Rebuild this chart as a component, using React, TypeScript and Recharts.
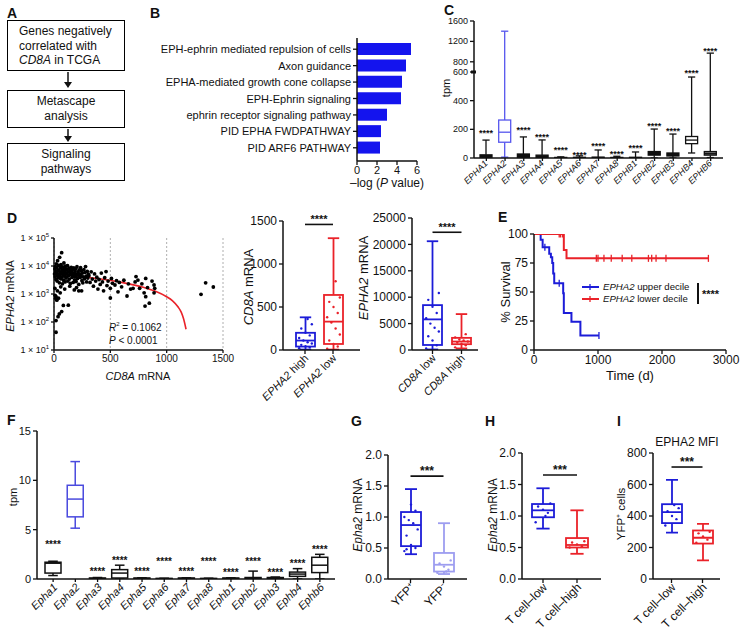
import React from 'react';
import {
  BarChart,
  ComposedChart,
  Bar,
  XAxis,
  YAxis,
  Scatter,
  Line,
  CartesianGrid,
  ReferenceLine,
} from 'recharts';

const FONT = '"Liberation Sans", Arial, Helvetica, sans-serif';
const INK = '#111';
const BLUE = '#1c1cd8';
const RED = '#ea2229';
const LIGHT_BLUE = '#9d9df0';

// ---------------- B: pathway enrichment ----------------
const pathwayTerms = [
  'EPH-ephrin mediated repulsion of cells',
  'Axon guidance',
  'EPHA-mediated growth cone collapse',
  'EPH-Ephrin signaling',
  'ephrin receptor signaling pathway',
  'PID EPHA FWDPATHWAY',
  'PID ARF6 PATHWAY',
];
const pathwayScores = [5.4, 4.9, 4.5, 4.4, 3.0, 2.4, 2.3];
const pathwayTicks = [0, 2, 4, 6];

// ---------------- C: human EPH tpm ----------------
const humanGenes = ['EPHA1', 'EPHA2', 'EPHA3', 'EPHA4', 'EPHA5', 'EPHA6', 'EPHA7', 'EPHA8', 'EPHB1', 'EPHB2', 'EPHB3', 'EPHB4', 'EPHB6'];
const cMin = [0, 6, 0, 0, 0, 0, 0, 0, 0, 0, 0, 35, 3];
const cQ1 = [5, 110, 5, 4, 1, 1, 1, 1, 1, 20, 14, 100, 20];
const cMed = [12, 180, 14, 9, 2, 2, 3, 2, 2, 30, 24, 125, 30];
const cQ3 = [22, 265, 28, 20, 4, 5, 6, 4, 5, 45, 35, 150, 45];
const cMax = [125, 1400, 147, 126, 8, 15, 56, 12, 42, 202, 167, 565, 970];
const cStars: (number | null)[] = [185, null, 210, 160, 70, 35, 98, 42, 84, 237, 202, 610, 1050];
const cTicks = [0, 200, 400, 600, 800, 1200, 1600];
// broken axis: 0-600 on the lower segment, 600-1600 compressed above it
const cT = (v: number) => (v <= 600 ? (v * 86) / 600 : 86 + ((v - 600) * 51) / 1000);

// ---------------- D: scatter CD8A vs EPHA2 ----------------
const dScatter: Array<[number, number]> = [
  [5, 5200], [8, 7800], [10, 4100], [12, 9500], [15, 6300], [18, 3300], [20, 12000], [22, 5600], [25, 8600], [28, 2900],
  [30, 4700], [32, 15500], [35, 6900], [38, 3800], [40, 10500], [42, 5100], [45, 7300], [48, 2500], [50, 20400], [52, 4300],
  [55, 6000], [58, 8900], [60, 3500], [62, 11200], [65, 5400], [68, 29800], [70, 4000], [72, 7100], [75, 2300], [78, 9200],
  [80, 4800], [82, 6400], [85, 3100], [88, 12800], [90, 5700], [92, 8100], [95, 4400], [98, 2700], [100, 6700], [103, 9800],
  [106, 3700], [110, 5300], [113, 7500], [116, 4100], [120, 10200], [123, 2900], [126, 6200], [130, 4600], [133, 8300], [136, 3400],
  [140, 5800], [143, 7000], [146, 2400], [150, 4900], [153, 9000], [156, 6300], [160, 3900], [163, 5100], [166, 7600], [170, 2600],
  [173, 4400], [176, 8500], [180, 5500], [183, 3200], [186, 6600], [190, 4200], [193, 7900], [196, 2800], [200, 5000], [204, 9400],
  [208, 3600], [212, 6100], [216, 4700], [220, 2200], [224, 7200], [228, 5200], [232, 3900], [236, 8700], [240, 4500], [244, 6800],
  [248, 3000], [252, 5600], [256, 2500], [260, 4100], [265, 7400], [270, 3500], [275, 5900], [280, 9500], [285, 4300], [290, 2700],
  [295, 6400], [300, 3700], [305, 5000],
  [10, 900], [15, 700], [18, 800], [25, 600], [40, 710], [30, 1300], [55, 1100], [83, 390], [127, 400], [68, 235],
  [47, 195], [36, 155], [18, 112], [18, 43], [60, 1800], [8, 1600], [95, 1500], [140, 1900], [180, 1400], [220, 1300],
  [245, 1300], [200, 1700],
  [310, 4500], [320, 2600], [330, 6200], [340, 3400], [350, 1900], [360, 5200], [370, 2900], [380, 4000], [390, 1500], [400, 3300],
  [410, 2200], [420, 5600], [430, 2700], [440, 1300], [450, 3800], [462, 6300], [470, 2000], [480, 2900], [500, 1600], [500, 720],
  [510, 3600], [520, 2400], [541, 2100], [555, 3000], [568, 1200], [580, 2600], [600, 1800], [620, 3100], [648, 850], [660, 2300],
  [680, 1500], [702, 1600], [720, 2700], [728, 4200], [745, 3150], [760, 1600], [780, 2300], [800, 1100], [808, 370], [814, 3600],
  [814, 800], [830, 1700], [846, 470], [870, 2900], [888, 2100], [888, 1100], [894, 1600],
  [1305, 970], [1346, 2500], [1414, 1780],
];
const fitCD8A = [0, 200, 400, 600, 800, 900, 1000, 1050, 1100, 1130, 1150, 1172];
const fitEPHA2 = [5300, 4400, 3500, 2600, 1700, 1250, 800, 580, 350, 220, 130, 55];
const logTicks = [10, 100, 1000, 10000, 100000];

// D middle: CD8A mRNA by EPHA2 group
const dMidGroups = ['EPHA2 high', 'EPHA2 low'];
const dMidMin = [5, 5];
const dMidQ1 = [40, 70];
const dMidMed = [110, 330];
const dMidQ3 = [200, 640];
const dMidMax = [380, 1300];
const dMidDots = [
  [20, 30, 45, 60, 75, 90, 110, 140, 170, 200, 250, 300, 360],
  [15, 40, 70, 110, 180, 250, 320, 380, 430, 500, 560, 610, 800],
];
const dMidSig = 1460;

// D right: EPHA2 mRNA by CD8A group
const dRightGroups = ['CD8A low', 'CD8A high'];
const dRightMin = [100, 300];
const dRightQ1 = [950, 1100];
const dRightMed = [5800, 1600];
const dRightQ3 = [8500, 2300];
const dRightMax = [20600, 6800];
const dRightDots = [
  [300, 900, 1800, 2600, 3500, 4200, 5000, 6000, 7000, 8200, 9500, 10800],
  [500, 900, 1200, 1400, 1600, 1800, 2000, 2400, 3000],
];
const dRightSig = 22300;

// ---------------- E: survival ----------------
const upperDays = [0, 104, 135, 238, 264, 285, 300, 316, 456, 466, 585, 725, 1015];
const upperPct = [100, 95, 88.5, 83, 80, 75, 66, 57.5, 49, 32, 24.4, 12.4, 12.4];
const lowerDays = [0, 466, 508, 2725];
const lowerPct = [100, 86.2, 79, 79];
const upperCensorDays = [170, 394, 1015];
const upperCensorPct = [88.5, 57.5, 12.4];
const lowerCensorDays = [394, 415, 446, 974, 1000, 1093, 1207, 1378, 1528, 1788, 1839, 1907, 2062, 2725];
const lowerCensorPct = [100, 100, 100, 79, 79, 79, 79, 79, 79, 79, 79, 79, 79, 79];

// ---------------- F: mouse Eph tpm ----------------
const mouseGenes = ['Epha1', 'Epha2', 'Epha3', 'Epha4', 'Epha5', 'Epha6', 'Epha7', 'Epha8', 'Ephb1', 'Ephb2', 'Ephb3', 'Ephb4', 'Ephb6'];
const fMin = [0.35, 5.15, 0, 0, 0, 0, 0, 0, 0, 0, 0, 0, 0];
const fQ1 = [0.6, 6.3, 0.02, 0.1, 0.02, 0.01, 0.02, 0.01, 0.02, 0.02, 0.03, 0.27, 0.65];
const fMed = [1.6, 8.1, 0.05, 0.6, 0.05, 0.03, 0.05, 0.03, 0.05, 0.06, 0.08, 0.5, 1.4];
const fQ3 = [1.7, 9.5, 0.1, 0.95, 0.1, 0.06, 0.1, 0.06, 0.1, 0.15, 0.15, 0.7, 2.2];
const fMax = [1.8, 11.9, 0.15, 1.4, 0.12, 0.08, 0.12, 0.08, 0.12, 0.8, 0.2, 1.05, 2.5];
const fStars: (number | null)[] = [3.6, null, 0.95, 2.05, 0.95, 1.95, 0.95, 1.95, 0.8, 1.95, 0.8, 1.75, 3.1];

// ---------------- G/H/I ----------------
const gGroups = ['YFP⁺', 'YFP⁻'];
const gMin = [0.4, 0.08];
const gQ1 = [0.53, 0.12];
const gMed = [0.87, 0.23];
const gQ3 = [1.08, 0.42];
const gMax = [1.45, 0.9];
const gDots = [
  [0.45, 0.5, 0.55, 0.7, 0.8, 0.9, 0.95, 1.0, 1.1, 1.2, 0.48],
  [0.1, 0.15, 0.2, 0.25, 0.3, 0.12],
];
const gSig = 1.66;

const hGroups = ['T cell–low', 'T cell–high'];
const hMin = [0.8, 0.4];
const hQ1 = [0.98, 0.5];
const hMed = [1.09, 0.54];
const hQ3 = [1.19, 0.65];
const hMax = [1.44, 1.09];
const hDots = [
  [0.9, 1.05, 1.1, 1.15, 1.2, 1.0],
  [0.5, 0.52, 0.55, 0.58, 0.6],
];
const hSig = 1.65;

const iGroups = ['T cell–low', 'T cell–high'];
const iMin = [295, 118];
const iQ1 = [355, 225];
const iMed = [425, 262];
const iQ3 = [475, 308];
const iMax = [630, 350];
const iDots = [
  [340, 380, 400, 430, 450, 470],
  [230, 250, 270, 290, 300],
];
const iSig = 711;

// ---------------- helpers ----------------
type BoxStyle = { stroke: string; fill: string; sw: number };

function makeBoxRows(
  groups: string[], mins: number[], q1: number[], med: number[], q3: number[], maxs: number[],
  extra: { dots?: number[][]; stars?: (number | null)[]; tf?: (v: number) => number } = {}
) {
  const tf = extra.tf ?? ((v: number) => v);
  return groups.map((g, i) => ({
    g,
    range: [tf(mins[i]), tf(maxs[i])],
    q1: tf(q1[i]),
    med: tf(med[i]),
    q3: tf(q3[i]),
    dots: extra.dots ? extra.dots[i].map(tf) : [],
    star: extra.stars && extra.stars[i] != null ? tf(extra.stars[i] as number) : null,
  }));
}

function boxShape(styles: Record<string, BoxStyle>, opts: { cap?: number; starSize?: number; dotR?: number } = {}) {
  const cap = opts.cap ?? 0.6;
  return (p: any) => {
    const { x, y, width, height, payload } = p;
    if (!payload || !Number.isFinite(x) || !Number.isFinite(y)) return <g />;
    const st = styles[payload.g] ?? { stroke: INK, fill: '#fff', sw: 1.4 };
    const [lo, hi] = payload.range as [number, number];
    const span = hi - lo;
    const py = (v: number) => (span > 0 ? y + (height * (hi - v)) / span : y);
    const cx = x + width / 2;
    const hw = (width * cap) / 2;
    const yHi = py(hi);
    const yLo = py(lo);
    const yQ3 = py(payload.q3);
    const yQ1 = py(payload.q1);
    const yMed = py(payload.med);
    const dots: number[] = payload.dots ?? [];
    return (
      <g>
        <line x1={cx} x2={cx} y1={yHi} y2={yQ3} stroke={st.stroke} strokeWidth={st.sw} />
        <line x1={cx} x2={cx} y1={yQ1} y2={yLo} stroke={st.stroke} strokeWidth={st.sw} />
        <line x1={cx - hw} x2={cx + hw} y1={yHi} y2={yHi} stroke={st.stroke} strokeWidth={st.sw} />
        <line x1={cx - hw} x2={cx + hw} y1={yLo} y2={yLo} stroke={st.stroke} strokeWidth={st.sw} />
        <rect x={x} y={yQ3} width={width} height={Math.max(yQ1 - yQ3, 1)} fill={st.fill} stroke={st.stroke} strokeWidth={st.sw} />
        <line x1={x} x2={x + width} y1={yMed} y2={yMed} stroke={st.stroke} strokeWidth={st.sw} />
        {dots.map((v, k) => (
          <circle key={k} cx={cx + ((((k * 5) % 7) - 3) * width) / 9} cy={py(v)} r={opts.dotR ?? 1.2} fill={st.stroke} />
        ))}
        {payload.star != null && (
          <text x={cx} y={py(payload.star) + 5} textAnchor="middle" fontSize={opts.starSize ?? 9} fontWeight="bold" fill={INK} fontFamily={FONT}>
            ****
          </text>
        )}
      </g>
    );
  };
}

const RotTick = (props: any) => {
  const { x, y, payload, fs, dx, dy, render } = props;
  return (
    <g transform={`translate(${x + dx},${y + dy}) rotate(-45)`}>
      <text x={0} y={0} textAnchor="end" fontSize={fs} fontFamily={FONT} fill={INK}>
        {render ? render(payload.value) : payload.value}
      </text>
    </g>
  );
};

const PlainYTick = (p: any) => (
  <text x={p.x} y={p.y} dy={4} textAnchor="end" fontSize={p.fs ?? 11} fill={INK} fontFamily={FONT}>
    {p.payload.value}
  </text>
);

const italicGene = (v: string) => <tspan fontStyle="italic">{v}</tspan>;
const italicFirst = (v: string) => {
  const [a, ...rest] = v.split(' ');
  return (
    <>
      <tspan fontStyle="italic">{a}</tspan>
      {' ' + rest.join(' ')}
    </>
  );
};

type Frame = {
  style: { position: 'absolute'; left: number; top: number };
  width: number;
  height: number;
  margin: { top: number; right: number; bottom: number; left: number };
  yW: number;
  xH: number;
};

function frame(r: { x0: number; x1: number; y0: number; y1: number }, yW: number, xH: number, mt = 8, mr = 8): Frame {
  return {
    style: { position: 'absolute', left: r.x0 - yW, top: r.y0 - mt },
    width: r.x1 - r.x0 + yW + mr,
    height: r.y1 - r.y0 + mt + xH,
    margin: { top: mt, right: mr, bottom: 0, left: 0 },
    yW,
    xH,
  };
}

const axisLine = { stroke: INK, strokeWidth: 1.5 };
const tickLine = { stroke: INK, strokeWidth: 1.3 };
const tickStyle = (fs: number) => ({ fontSize: fs, fill: INK, fontFamily: FONT });

const Letter = ({ x, base, ch }: { x: number; base: number; ch: string }) => (
  <div style={{ position: 'absolute', left: x, top: base - 12, fontSize: 14, fontWeight: 900, lineHeight: '14px', fontFamily: FONT }}>{ch}</div>
);

const VText = ({ cx, cy, fs = 12, children }: any) => (
  <div
    style={{
      position: 'absolute', left: cx, top: cy, transform: 'translate(-50%,-50%) rotate(-90deg)',
      fontSize: fs, whiteSpace: 'nowrap', lineHeight: 1, fontFamily: FONT, color: INK,
    }}
  >
    {children}
  </div>
);

const HText = ({ cx, cy, fs = 12, children, anchor = 'center' }: any) => (
  <div
    style={{
      position: 'absolute', left: cx, top: cy,
      transform: anchor === 'center' ? 'translate(-50%,-50%)' : 'translate(0,-50%)',
      fontSize: fs, whiteSpace: 'nowrap', lineHeight: 1, fontFamily: FONT, color: INK,
    }}
  >
    {children}
  </div>
);

const LogTick = (p: any) => {
  const exp = Math.round(Math.log10(p.payload.value));
  return (
    <text x={p.x} y={p.y + 3} textAnchor="end" fontSize={9} fill={INK} fontFamily={FONT}>
      1 × 10<tspan dy={-4} fontSize={6}>{exp}</tspan>
    </text>
  );
};

const CTick = (p: any) => {
  const label = cTicks.find((v) => Math.abs(cT(v) - p.payload.value) < 0.01);
  return (
    <g>
      <text x={p.x} y={p.y + 3} textAnchor="end" fontSize={9} fill={INK} fontFamily={FONT}>{label}</text>
      {label === 600 && <rect x={p.x + 3} y={p.y - 1.5} width={5} height={3} fill={INK} />}
    </g>
  );
};

const censorShape = (color: string) => (p: any) =>
  Number.isFinite(p.cx) ? <line x1={p.cx} x2={p.cx} y1={p.cy - 3.5} y2={p.cy + 3.5} stroke={color} strokeWidth={1.3} /> : <g />;

function boxChart(
  f: Frame, rows: any[], styles: Record<string, BoxStyle>, domain: [number, number], ticks: number[],
  fmt: (v: number) => string, barSize: number, pad: { left: number; right: number }, tickFs: number,
  rot: { fs: number; dx: number; dy: number; render?: (v: string) => any },
  sig: number | null, sigText: string, sigFs = 12
) {
  return (
    <div style={f.style}>
      <BarChart width={f.width} height={f.height} margin={f.margin} data={rows}>
        <XAxis
          dataKey="g" type="category" allowDuplicatedCategory={false} padding={pad} height={f.xH}
          axisLine={axisLine} tickLine={tickLine} tickSize={4} tickMargin={2} interval={0}
          tick={(p: any) => <RotTick {...p} {...rot} />}
        />
        <YAxis
          type="number" domain={domain} ticks={ticks} allowDataOverflow width={f.yW} interval={0}
          axisLine={axisLine} tickLine={tickLine} tickSize={4} tickMargin={2} tick={tickStyle(tickFs)} tickFormatter={fmt}
        />
        <Bar dataKey="range" barSize={barSize} isAnimationActive={false} shape={boxShape(styles)} />
        {sig != null && (
          <ReferenceLine
            segment={[{ x: rows[0].g, y: sig }, { x: rows[1].g, y: sig }]}
            stroke={INK} strokeWidth={1.6} ifOverflow="visible"
            label={{ value: sigText, position: 'top', fontSize: sigFs, fill: INK, fontWeight: 'bold', offset: 1 }}
          />
        )}
      </BarChart>
    </div>
  );
}

// ---------------- App ----------------
export default function App() {
  const bRows = pathwayTerms.map((term, i) => ({ term, v: pathwayScores[i] }));
  const cRows = makeBoxRows(humanGenes, cMin, cQ1, cMed, cQ3, cMax, { stars: cStars, tf: cT });
  const fRows = makeBoxRows(mouseGenes, fMin, fQ1, fMed, fQ3, fMax, { stars: fStars });
  const dMidRows = makeBoxRows(dMidGroups, dMidMin, dMidQ1, dMidMed, dMidQ3, dMidMax, { dots: dMidDots });
  const dRightRows = makeBoxRows(dRightGroups, dRightMin, dRightQ1, dRightMed, dRightQ3, dRightMax, { dots: dRightDots });
  const gRows = makeBoxRows(gGroups, gMin, gQ1, gMed, gQ3, gMax, { dots: gDots });
  const hRows = makeBoxRows(hGroups, hMin, hQ1, hMed, hQ3, hMax, { dots: hDots });
  const iRows = makeBoxRows(iGroups, iMin, iQ1, iMed, iQ3, iMax, { dots: iDots });

  const scatterRows = dScatter.map(([x, y]) => ({ x, y }));
  const fitRows = fitCD8A.map((x, i) => ({ x, y: fitEPHA2[i] }));
  const upperRows = upperDays.map((t, i) => ({ t, s: upperPct[i] }));
  const lowerRows = lowerDays.map((t, i) => ({ t, s: lowerPct[i] }));
  const upperCens = upperCensorDays.map((t, i) => ({ t, s: upperCensorPct[i] }));
  const lowerCens = lowerCensorDays.map((t, i) => ({ t, s: lowerCensorPct[i] }));

  const cStyles: Record<string, BoxStyle> = {};
  humanGenes.forEach((g) => (cStyles[g] = { stroke: INK, fill: INK, sw: 1.3 }));
  cStyles.EPHA2 = { stroke: '#5656ee', fill: '#fff', sw: 1.3 };
  cStyles.EPHB4 = { stroke: INK, fill: '#fff', sw: 1.3 };
  cStyles.EPHB6 = { stroke: INK, fill: '#777', sw: 1.3 };

  const fStyles: Record<string, BoxStyle> = {};
  mouseGenes.forEach((g) => (fStyles[g] = { stroke: INK, fill: '#fff', sw: 1.5 }));
  fStyles.Epha2 = { stroke: '#4a4ade', fill: '#fff', sw: 1.5 };

  const pairStyle = (a: string, b: string, ca: string, cb: string): Record<string, BoxStyle> => ({
    [a]: { stroke: ca, fill: '#fff', sw: 1.8 },
    [b]: { stroke: cb, fill: '#fff', sw: 1.8 },
  });

  const fB = frame({ x0: 357, x1: 417, y0: 38, y1: 161 }, 207, 30, 4, 12);
  const fC = frame({ x0: 474, x1: 723, y0: 21, y1: 158 }, 40, 40, 8, 8);
  const fD = frame({ x0: 54, x1: 223, y0: 238, y1: 350 }, 50, 30, 8, 12);
  const fDm = frame({ x0: 283, x1: 360, y0: 221, y1: 350 }, 36, 62, 8, 6);
  const fDr = frame({ x0: 412, x1: 478, y0: 218, y1: 350 }, 42, 62, 8, 6);
  const fE = frame({ x0: 534, x1: 726, y0: 234, y1: 350 }, 30, 30, 8, 14);
  const fF = frame({ x0: 37, x1: 335, y0: 431, y1: 579 }, 28, 55, 8, 8);
  const fG = frame({ x0: 388, x1: 467, y0: 455, y1: 579 }, 30, 58, 8, 6);
  const fH = frame({ x0: 522, x1: 601, y0: 453, y1: 579 }, 30, 58, 8, 6);
  const fI = frame({ x0: 653, x1: 720, y0: 453, y1: 579 }, 34, 58, 8, 6);

  return (
    <div style={{ position: 'absolute', left: 0, top: 0, width: 743, height: 640, background: '#fff', fontFamily: FONT, color: INK, overflow: 'hidden' }}>
      {/* ---------- A ---------- */}
      <Letter x={7} base={18} ch="A" />
      <div style={{ position: 'absolute', left: 7, top: 20, width: 118, height: 51, border: '1.5px solid #000', boxSizing: 'border-box', fontSize: 12, lineHeight: '14.5px', padding: '3px 0 0 11px' }}>
        Genes negatively<br />correlated with<br /><i>CD8A</i> in TCGA
      </div>
      <div style={{ position: 'absolute', left: 7, top: 90, width: 118, height: 38, border: '1.5px solid #000', boxSizing: 'border-box', fontSize: 12, lineHeight: '14.5px', paddingTop: 3, textAlign: 'center' }}>
        Metascape<br />analysis
      </div>
      <div style={{ position: 'absolute', left: 7, top: 143, width: 118, height: 38, border: '1.5px solid #000', boxSizing: 'border-box', fontSize: 12, lineHeight: '14.5px', paddingTop: 3, textAlign: 'center' }}>
        Signaling<br />pathways
      </div>
      <svg style={{ position: 'absolute', left: 0, top: 0 }} width={140} height={200}>
        <line x1={68} x2={68} y1={72} y2={83} stroke={INK} strokeWidth={1.5} />
        <polygon points="64,82 72,82 68,88" fill={INK} />
        <line x1={68} x2={68} y1={129} y2={137} stroke={INK} strokeWidth={1.5} />
        <polygon points="64,136 72,136 68,142" fill={INK} />
      </svg>

      {/* ---------- B ---------- */}
      <Letter x={150} base={18} ch="B" />
      <div style={fB.style}>
        <BarChart layout="vertical" width={fB.width} height={fB.height} margin={fB.margin} data={bRows}>
          <XAxis type="number" domain={[0, 6]} ticks={pathwayTicks} height={30} interval={0} axisLine={axisLine} tickLine={tickLine} tickSize={4} tickMargin={1} tick={tickStyle(11)} />
          <YAxis type="category" dataKey="term" width={207} padding={{ top: 3, bottom: 5 }} axisLine={axisLine} tickLine={tickLine} tickSize={4} tickMargin={2} interval={0}
            tick={(p: any) => <PlainYTick {...p} fs={11} />} />
          <Bar dataKey="v" fill="#1414ee" barSize={12} isAnimationActive={false} />
        </BarChart>
      </div>
      <HText cx={387} cy={183} fs={12}>–log (<i>P</i> value)</HText>

      {/* ---------- C ---------- */}
      <Letter x={444} base={15} ch="C" />
      <div style={fC.style}>
        <BarChart width={fC.width} height={fC.height} margin={fC.margin} data={cRows}>
          <XAxis dataKey="g" type="category" allowDuplicatedCategory={false} padding={{ left: 3, right: 3 }} height={40}
            axisLine={axisLine} tickLine={tickLine} tickSize={3} tickMargin={2} interval={0}
            tick={(p: any) => <RotTick {...p} fs={9} dx={2} dy={1} render={italicGene} />} />
          <YAxis type="number" domain={[0, cT(1600)]} ticks={cTicks.map(cT)} allowDataOverflow width={40} interval={0}
            axisLine={axisLine} tickLine={tickLine} tickSize={4} tickMargin={2} tick={(p: any) => <CTick {...p} />} />
          <Bar dataKey="range" barSize={12} isAnimationActive={false} shape={boxShape(cStyles, { starSize: 9 })} />
        </BarChart>
      </div>
      <VText cx={446} cy={88} fs={11}>tpm</VText>

      {/* ---------- D scatter ---------- */}
      <Letter x={7} base={223} ch="D" />
      <div style={fD.style}>
        <ComposedChart width={fD.width} height={fD.height} margin={fD.margin}>
          <CartesianGrid horizontal={false} stroke="#9a9a9a" strokeDasharray="2 2" strokeWidth={0.8} />
          <XAxis type="number" dataKey="x" domain={[0, 1500]} ticks={[0, 500, 1000, 1500]} height={30} interval={0}
            axisLine={axisLine} tickLine={tickLine} tickSize={3} tickMargin={2} tick={tickStyle(10)} />
          <YAxis type="number" scale="log" domain={[10, 100000]} ticks={logTicks} allowDataOverflow width={50} interval={0}
            axisLine={axisLine} tickLine={tickLine} tickSize={3} tickMargin={2} tick={(p: any) => <LogTick {...p} />} />
          <Line data={fitRows} dataKey="y" type="monotone" stroke={RED} strokeWidth={1.6} dot={false} isAnimationActive={false} />
          <Scatter data={scatterRows} dataKey="y" isAnimationActive={false}
            shape={(p: any) => <circle cx={p.cx} cy={p.cy} r={1.9} fill="#000" />} />
        </ComposedChart>
      </div>
      <VText cx={10} cy={296} fs={11}><i>EPHA2</i> mRNA</VText>
      <HText cx={138} cy={376} fs={11}><i>CD8A</i> mRNA</HText>
      <HText cx={109} cy={327} fs={10} anchor="left"><i>R</i><sup style={{ fontSize: 6 }}>2</sup> = 0.1062</HText>
      <HText cx={109} cy={341} fs={10} anchor="left"><i>P</i> &lt; 0.0001</HText>

      {/* ---------- D middle ---------- */}
      {boxChart(fDm, dMidRows, pairStyle('EPHA2 high', 'EPHA2 low', BLUE, RED), [0, 1500], [0, 500, 1000, 1500], (v) => String(v), 19,
        { left: 8, right: 13 }, 12, { fs: 11, dx: 4, dy: 3, render: italicFirst }, dMidSig, '****', 11)}
      <VText cx={248} cy={287} fs={13}><i>CD8A</i> mRNA</VText>

      {/* ---------- D right ---------- */}
      {boxChart(fDr, dRightRows, pairStyle('CD8A low', 'CD8A high', BLUE, RED), [0, 25000], [0, 5000, 10000, 15000, 20000, 25000], (v) => String(v), 19,
        { left: 6, right: 2 }, 12, { fs: 11, dx: 4, dy: 3, render: italicFirst }, dRightSig, '****', 11)}
      <VText cx={363} cy={278} fs={13}><i>EPHA2</i> mRNA</VText>

      {/* ---------- E ---------- */}
      <Letter x={498} base={222} ch="E" />
      <div style={fE.style}>
        <ComposedChart width={fE.width} height={fE.height} margin={fE.margin}>
          <XAxis type="number" dataKey="t" domain={[0, 3000]} ticks={[0, 1000, 2000, 3000]} height={30} interval={0}
            axisLine={axisLine} tickLine={tickLine} tickSize={4} tickMargin={1} tick={tickStyle(12)} />
          <YAxis type="number" domain={[0, 100]} ticks={[0, 25, 50, 75, 100]} allowDataOverflow width={30} interval={0}
            axisLine={axisLine} tickLine={tickLine} tickSize={4} tickMargin={2} tick={tickStyle(12)} />
          <Line data={upperRows} dataKey="s" type="stepAfter" stroke={BLUE} strokeWidth={2} dot={false} isAnimationActive={false} />
          <Line data={lowerRows} dataKey="s" type="stepAfter" stroke={RED} strokeWidth={2} dot={false} isAnimationActive={false} />
          <Scatter data={upperCens} dataKey="s" isAnimationActive={false} shape={censorShape(BLUE)} />
          <Scatter data={lowerCens} dataKey="s" isAnimationActive={false} shape={censorShape(RED)} />
        </ComposedChart>
      </div>
      <VText cx={505} cy={292} fs={13}>% Survival</VText>
      <HText cx={630} cy={375} fs={13}>Time (d)</HText>
      <svg style={{ position: 'absolute', left: 580, top: 280 }} width={25} height={26}>
        <line x1={2} x2={19} y1={7} y2={7} stroke={BLUE} strokeWidth={2} />
        <line x1={10} x2={10} y1={4} y2={10} stroke={BLUE} strokeWidth={1.3} />
        <line x1={2} x2={19} y1={19} y2={19} stroke={RED} strokeWidth={2} />
        <line x1={10} x2={10} y1={16} y2={22} stroke={RED} strokeWidth={1.3} />
      </svg>
      <HText cx={603} cy={287} fs={9.6} anchor="left"><i>EPHA2</i> upper decile</HText>
      <HText cx={603} cy={299} fs={9.6} anchor="left"><i>EPHA2</i> lower decile</HText>
      <div style={{ position: 'absolute', left: 697, top: 283, width: 2, height: 21, background: INK }} />
      <HText cx={702} cy={294} fs={11} anchor="left"><b>****</b></HText>

      {/* ---------- F ---------- */}
      <Letter x={7} base={425} ch="F" />
      <div style={fF.style}>
        <BarChart width={fF.width} height={fF.height} margin={fF.margin} data={fRows}>
          <XAxis dataKey="g" type="category" allowDuplicatedCategory={false} padding={{ left: 5, right: 4 }} height={55}
            axisLine={axisLine} tickLine={tickLine} tickSize={3} tickMargin={2} interval={0}
            tick={(p: any) => <RotTick {...p} fs={11} dx={5} dy={4} render={italicGene} />} />
          <YAxis type="number" domain={[0, 15]} ticks={[0, 5, 10, 15]} allowDataOverflow width={28} interval={0}
            axisLine={axisLine} tickLine={tickLine} tickSize={4} tickMargin={2} tick={tickStyle(11)} />
          <Bar dataKey="range" barSize={16} isAnimationActive={false} shape={boxShape(fStyles, { starSize: 10 })} />
        </BarChart>
      </div>
      <VText cx={13} cy={497} fs={11}>tpm</VText>

      {/* ---------- G ---------- */}
      <Letter x={351} base={426} ch="G" />
      {boxChart(fG, gRows, pairStyle('YFP⁺', 'YFP⁻', BLUE, LIGHT_BLUE), [0, 2], [0, 0.5, 1, 1.5, 2], (v) => v.toFixed(1), 20,
        { left: 6, right: 7 }, 12, { fs: 12, dx: 5, dy: 3 }, gSig, '***')}
      <VText cx={358} cy={515} fs={12}><i>Epha2</i> mRNA</VText>

      {/* ---------- H ---------- */}
      <Letter x={485} base={426} ch="H" />
      {boxChart(fH, hRows, pairStyle('T cell–low', 'T cell–high', BLUE, RED), [0, 2], [0, 0.5, 1, 1.5, 2], (v) => v.toFixed(1), 22,
        { left: 4, right: 7 }, 12, { fs: 12, dx: 5, dy: 3 }, hSig, '***')}
      <VText cx={493} cy={515} fs={12}><i>Epha2</i> mRNA</VText>

      {/* ---------- I ---------- */}
      <Letter x={617} base={426} ch="I" />
      {boxChart(fI, iRows, pairStyle('T cell–low', 'T cell–high', BLUE, RED), [0, 800], [0, 200, 400, 600, 800], (v) => String(v), 20,
        { left: 3, right: 2 }, 12, { fs: 12, dx: 5, dy: 3 }, iSig, '***')}
      <VText cx={622} cy={514} fs={11.5}>YFP⁺ cells</VText>
      <HText cx={687} cy={442} fs={12}>EPHA2 MFI</HText>
    </div>
  );
}
